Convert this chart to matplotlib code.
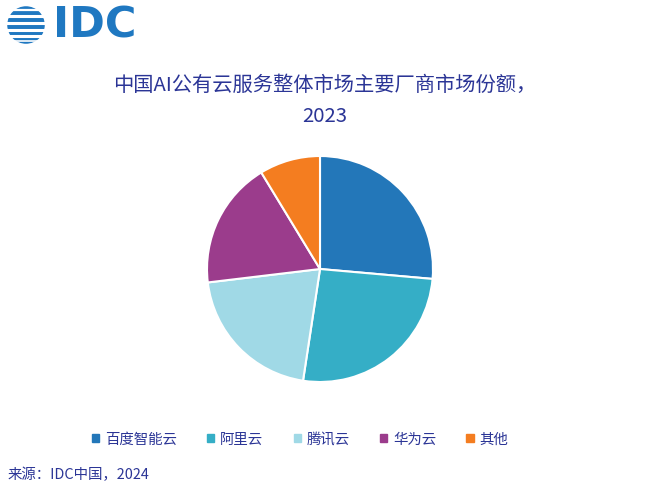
import matplotlib.pyplot as plt
from matplotlib.patches import Circle

plt.rcParams['font.family'] = ['Noto Sans CJK SC', 'DejaVu Sans']

vendors = ['百度智能云', '阿里云', '腾讯云', '华为云', '其他']
shares = [26.4, 26.0, 20.7, 18.2, 8.7]
colors = ['#2377b9', '#35aec6', '#a0d9e6', '#9b3c8c', '#f47d20']

title = '中国AI公有云服务整体市场主要厂商市场份额，\n2023'
source = '来源：IDC中国，2024'
text_color = '#2b3596'
logo_blue = '#1f78c1'

W, H = 664, 502
fig = plt.figure(figsize=(W / 100, H / 100), dpi=100)

# pie, centre around (320, 270) px, radius ~113 px
r = 113
ax = fig.add_axes([(320 - r) / W, 1 - (270 + r) / H, 2 * r / W, 2 * r / H])
ax.pie(shares, colors=colors, startangle=90, counterclock=False,
       wedgeprops=dict(edgecolor='white', linewidth=1.5))
ax.set_xlim(-1, 1)
ax.set_ylim(-1, 1)
ax.set_aspect('equal')
ax.axis('off')

fig.text(325 / W, 1 - 101 / H, title, ha='center', va='center',
         fontsize=14.6, color=text_color, linespacing=1.6)

# legend row
handles = [plt.Rectangle((0, 0), 1, 1, color=c) for c in colors]
fig.legend(handles, vendors, loc='center', bbox_to_anchor=(300 / W, 1 - 440 / H),
           ncol=5, frameon=False, handlelength=0.5, handleheight=0.5,
           handletextpad=0.4, columnspacing=2.1, fontsize=10.4, labelcolor=text_color)

fig.text(8 / W, 1 - 475 / H, source, ha='left', va='center',
         fontsize=10.4, color=text_color)

# IDC logo: striped globe + bold letters
lax = fig.add_axes([7 / W, 1 - 45 / H, 38 / W, 38 / H])
lax.set_xlim(-1, 1)
lax.set_ylim(-1, 1)
lax.set_aspect('equal')
lax.axis('off')
globe = Circle((0, 0), 0.95, color=logo_blue)
lax.add_patch(globe)
for yy in [-0.6, -0.25, 0.1, 0.45]:
    lax.axhline(yy, color='white', linewidth=2.2)
lax.axhline(0.78, color='white', linewidth=1.6)
lax.axhline(-0.85, color='white', linewidth=1.2)

fig.text(53 / W, 1 - 25 / H, 'IDC', ha='left', va='center', fontsize=31,
         fontweight='bold', color=logo_blue, family='DejaVu Sans')

fig.savefig('out.png', dpi=100)
